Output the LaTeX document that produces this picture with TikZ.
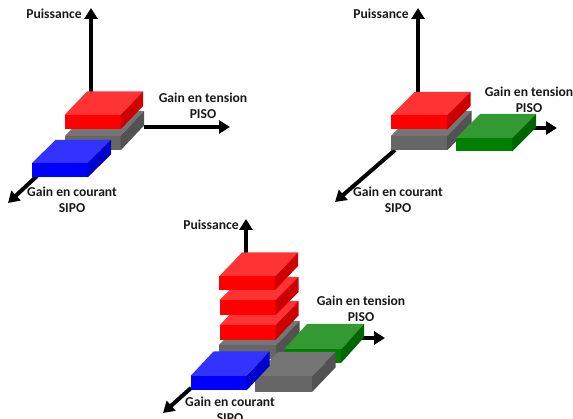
\documentclass[tikz,border=0pt]{standalone}
\usepackage{fontspec}
\setmainfont{Carlito}
\usetikzlibrary{arrows.meta, positioning}

\definecolor{redtop}{HTML}{FF3333}
\definecolor{redfront}{HTML}{FF0000}
\definecolor{redside}{HTML}{CC0000}
\definecolor{bluetop}{HTML}{3333FF}
\definecolor{bluefront}{HTML}{0000FF}
\definecolor{blueside}{HTML}{0000CC}
\definecolor{greentop}{HTML}{339933}
\definecolor{greenfront}{HTML}{008000}
\definecolor{greenside}{HTML}{006600}
\definecolor{greytop}{HTML}{757575}
\definecolor{greyfront}{HTML}{666666}
\definecolor{greyside}{HTML}{525252}

\tikzset{
  axis/.style={line width=4pt, -{Triangle[length=11pt, width=13pt]}},
  lab/.style={font=\bfseries\fontsize{13.6}{16}\selectfont, align=center, text=black!90, inner sep=0pt}
}

% colour, front-left x, top y, width, depth x, depth y, height
\newcommand{\slab}[7]{
  \fill[#1top] (#2,#3) -- ++(#4,0) -- ++(#5,-#6) -- ++(-#4,0) -- cycle;
  \fill[#1front] (#2,#3) rectangle ++(#4,#7);
  \fill[#1side] (#2+#4,#3) -- ++(#5,-#6) -- ++(0,#7) -- ++(-#5,#6) -- cycle;
}

\begin{document}
\begin{tikzpicture}[x=1pt, y=-1pt]
  \useasboundingbox (0,0) rectangle (573,419);

  % Left picture
  \coordinate (o1) at (91,92);
  \coordinate (p1) at (91,8);
  \coordinate (t1s) at (144,127);
  \coordinate (t1e) at (230,127);
  \coordinate (c1s) at (37,176);
  \coordinate (c1e) at (8,203);
  \draw[axis] (o1) -- (p1);
  \draw[axis] (t1s) -- (t1e);
  \draw[axis] (c1s) -- (c1e);
  \slab{grey}{65}{136}{55.5}{23.5}{25}{14.5}
  \slab{red}{64.5}{115}{56}{22.5}{23.5}{14.5}
  \slab{blue}{32}{163}{55.5}{23.5}{23}{14.5}
  \node (puiss1) [lab] at (54,14) {Puissance};
  \node (tens1) [lab] at (203,106) {Gain en tension\\PISO};
  \node (cour1) [lab] at (72,200) {Gain en courant\\SIPO};

  % Right picture
  \coordinate (o2) at (418,92);
  \coordinate (p2) at (418,8);
  \coordinate (t2s) at (530,128);
  \coordinate (t2e) at (557,128);
  \coordinate (c2s) at (395,150);
  \coordinate (c2e) at (335,202);
  \draw[axis] (o2) -- (p2);
  \draw[axis] (t2s) -- (t2e);
  \draw[axis] (c2s) -- (c2e);
  \slab{grey}{391}{136}{56}{24.5}{25}{14.5}
  \slab{red}{391}{115.5}{56}{23.5}{23.5}{14}
  \slab{green}{456}{138}{56}{24}{24}{13.5}
  \node (puiss2) [lab] at (381,14) {Puissance};
  \node (tens2) [lab] at (529,100) {Gain en tension\\PISO};
  \node (cour2) [lab] at (398,200) {Gain en courant\\SIPO};

  % Bottom picture
  \coordinate (o3) at (246,254);
  \coordinate (p3) at (246,219);
  \coordinate (t3s) at (358,338);
  \coordinate (t3e) at (385,338);
  \coordinate (c3s) at (191,388);
  \coordinate (c3e) at (163,413);
  \draw[axis] (o3) -- (p3);
  \draw[axis] (t3s) -- (t3e);
  \draw[axis] (c3s) -- (c3e);
  \slab{grey}{219}{345}{57}{23.5}{24}{14.5}
  \slab{red}{219.5}{325.5}{56}{23}{24.5}{14.5}
  \slab{red}{219.5}{300}{56}{23}{23}{15}
  \slab{red}{219}{276.5}{56}{23}{24}{13.5}
  \slab{green}{284}{349.5}{57}{23}{25.5}{13.5}
  \slab{grey}{254.5}{376.5}{57.5}{23.5}{24.5}{15.5}
  \slab{blue}{190.5}{376}{56}{23}{24.5}{14.5}
  \node (puiss3) [lab] at (211,225) {Puissance};
  \node (tens3) [lab] at (361,309) {Gain en tension\\PISO};
  \node (cour3) [lab] at (230,410) {Gain en courant\\SIPO};
\end{tikzpicture}
\end{document}
